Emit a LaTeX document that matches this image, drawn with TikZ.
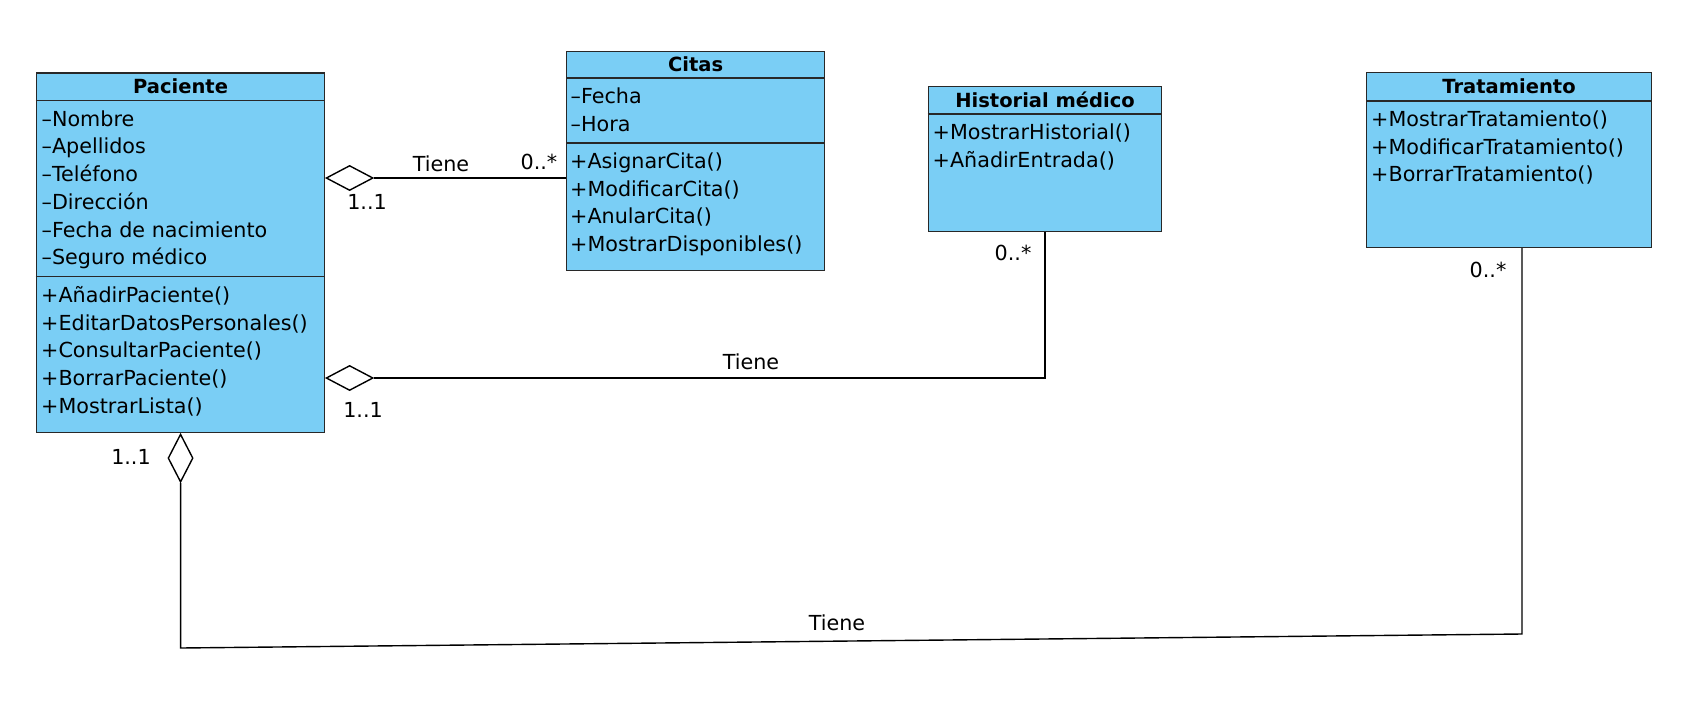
\documentclass[tikz,border=0pt]{standalone}
\usepackage{fontspec}
\setmainfont{DejaVu Sans}
\usetikzlibrary{shapes.geometric}
\definecolor{clsfill}{RGB}{122,206,245}
\definecolor{linec}{RGB}{40,40,40}
\tikzset{
  cls/.style={draw=linec, fill=clsfill, line width=1.4pt, inner sep=0pt, anchor=north west},
  sepline/.style={draw=linec, line width=1.4pt},
  ttl/.style={font=\bfseries\fontsize{19.5}{23}\selectfont, inner sep=0pt, anchor=base},
  itm/.style={font=\fontsize{20.7}{24}\selectfont, inner sep=0pt, anchor=base west},
  lbl/.style={font=\fontsize{20.7}{24}\selectfont, inner sep=0pt},
  agg/.style={diamond, draw=black, fill=white, line width=1.4pt, inner sep=0pt, minimum width=47pt, minimum height=25pt},
  aggv/.style={diamond, draw=black, fill=white, line width=1.4pt, inner sep=0pt, minimum width=25pt, minimum height=48pt},
  conn/.style={draw=black, line width=1.4pt},
}
\begin{document}
\begin{tikzpicture}[x=1pt,y=-1pt]
\useasboundingbox (0,0) rectangle (1690,702);
% ---------- Paciente ----------
\node[cls, minimum width=288.3pt, minimum height=359.7pt] (pac) at (35.7,72.3) {};
\draw[sepline] (pac.west |- 0,100.7) -- (pac.east |- 0,100.7);
\draw[sepline] (pac.west |- 0,276.7) -- (pac.east |- 0,276.7);
\node[ttl] (pact) at (pac.north |- 0,93.6) {Paciente};
\node[itm] (pa1) at (41.5,126.2) {–Nombre};
\node[itm] (pa2) at (41.5,153.9) {–Apellidos};
\node[itm] (pa3) at (41.5,181.6) {–Teléfono};
\node[itm] (pa4) at (41.5,209.3) {–Dirección};
\node[itm] (pa5) at (41.5,237.0) {–Fecha de nacimiento};
\node[itm] (pa6) at (41.5,264.7) {–Seguro médico};
\node[itm] (pm1) at (41,302.4) {+AñadirPaciente()};
\node[itm] (pm2) at (41,330.1) {+EditarDatosPersonales()};
\node[itm] (pm3) at (41,357.8) {+ConsultarPaciente()};
\node[itm] (pm4) at (41,385.5) {+BorrarPaciente()};
\node[itm] (pm5) at (41,413.2) {+MostrarLista()};
% ---------- Citas ----------
\node[cls, minimum width=258pt, minimum height=219.3pt] (cit) at (566,50.7) {};
\draw[sepline] (cit.west |- 0,78) -- (cit.east |- 0,78);
\draw[sepline] (cit.west |- 0,143) -- (cit.east |- 0,143);
\node[ttl] (citt) at (cit.north |- 0,71.6) {Citas};
\node[itm] (ca1) at (570.5,103.8) {–Fecha};
\node[itm] (ca2) at (570.5,131.5) {–Hora};
\node[itm] (cm1) at (570,168.5) {+AsignarCita()};
\node[itm] (cm2) at (570,196.2) {+ModificarCita()};
\node[itm] (cm3) at (570,223.9) {+AnularCita()};
\node[itm] (cm4) at (570,251.6) {+MostrarDisponibles()};
% ---------- Historial medico ----------
\node[cls, minimum width=233.3pt, minimum height=144.7pt] (his) at (927.7,86) {};
\draw[sepline] (his.west |- 0,114) -- (his.east |- 0,114);
\node[ttl] (hist) at (his.north |- 0,107.1) {Historial médico};
\node[itm] (hm1) at (932.5,139.5) {+MostrarHistorial()};
\node[itm] (hm2) at (932.5,167.2) {+AñadirEntrada()};
% ---------- Tratamiento ----------
\node[cls, minimum width=284.7pt, minimum height=174.7pt] (tra) at (1366,72) {};
\draw[sepline] (tra.west |- 0,101) -- (tra.east |- 0,101);
\node[ttl] (trat) at (tra.north |- 0,93.6) {Tratamiento};
\node[itm] (tm1) at (1371,126.5) {+MostrarTratamiento()};
\node[itm] (tm2) at (1371,154.2) {+ModificarTratamiento()};
\node[itm] (tm3) at (1371,181.9) {+BorrarTratamiento()};
% ---------- Paciente -- Citas ----------
\node[agg, anchor=west] (d1) at (pac.east |- 0,178) {};
\draw[conn] (d1.east) -- (cit.west |- d1.east);
\node[lbl] (l1) at (441,164) {Tiene};
\node[lbl] (m1a) at (539,162) {0..*};
\node[lbl] (m1b) at (367,202) {1..1};
% ---------- Paciente -- Historial ----------
\node[agg, anchor=west] (d2) at (pac.east |- 0,378) {};
\coordinate (c2) at (his.south |- d2.east);
\draw[conn] (d2.east) -- (c2) -- (his.south);
\node[lbl] (l2) at (751,362) {Tiene};
\node[lbl] (m2a) at (1013,253) {0..*};
\node[lbl] (m2b) at (363,410) {1..1};
% ---------- Paciente -- Tratamiento ----------
\node[aggv, anchor=north] (d3) at (pac.south) {};
\coordinate (c3a) at (d3.south |- 0,648);
\coordinate (c3b) at (1522,634);
\draw[conn] (d3.south) -- (c3a) -- (c3b) -- (c3b |- tra.south);
\node[lbl] (l3) at (837,623) {Tiene};
\node[lbl] (m3a) at (1488,270) {0..*};
\node[lbl] (m3b) at (131,457) {1..1};
\end{tikzpicture}
\end{document}
